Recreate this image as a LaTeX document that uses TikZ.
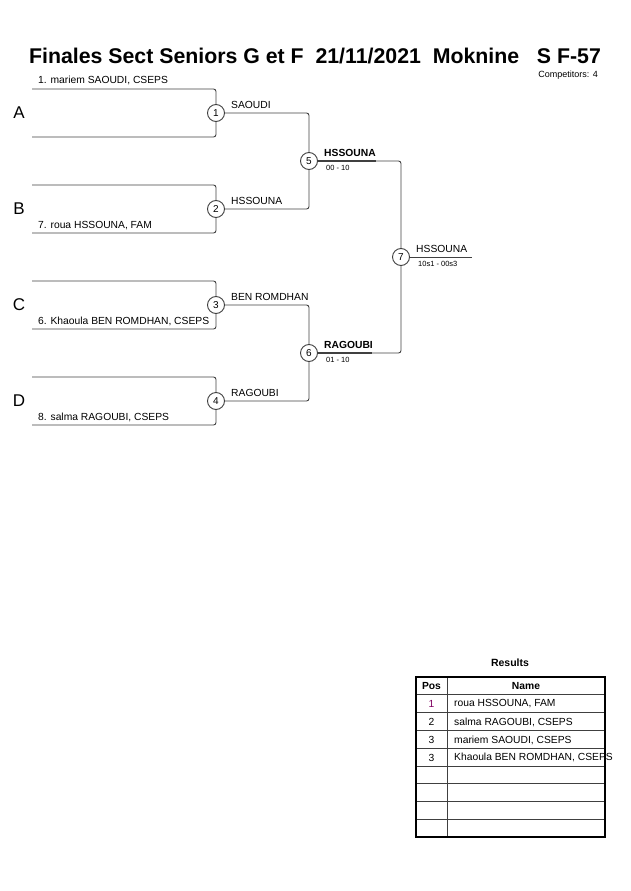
\documentclass[tikz,border=0pt]{standalone}
\usepackage{fontspec}
\setmainfont{Liberation Sans}
\usetikzlibrary{positioning}
\definecolor{linegray}{HTML}{404040}
\definecolor{posviolet}{HTML}{800060}
\tikzset{
  bracket/.style={draw=linegray, line width=0.9pt, rounded corners=2.5pt},
  matchnum/.style={circle, draw=linegray, line width=0.9pt, fill=white, minimum size=17pt, inner sep=0pt, font=\fontsize{10}{11}\selectfont},
  player/.style={anchor=base west, inner sep=0pt, font=\fontsize{10.3}{12}\selectfont},
  winner/.style={anchor=base west, inner sep=0pt, font=\fontsize{10.3}{12}\selectfont\bfseries},
  score/.style={anchor=base west, inner sep=0pt, font=\fontsize{7.5}{9}\selectfont},
  pool/.style={inner sep=0pt, font=\fontsize{17}{19}\selectfont},
  cell/.style={inner sep=0pt, font=\fontsize{10.3}{12}\selectfont},
}
\begin{document}
\begin{tikzpicture}[x=1pt,y=-1pt]
          \useasboundingbox (0,0) rectangle (630,891);
          % titre
          \node [inner sep=0pt, font=\fontsize{21.3}{23}\selectfont\bfseries] (title) at (315,56)
            {Finales Sect Seniors G et F\ \ 21/11/2021\ \ Moknine\ \ \ S F-57};
          \node [anchor=east, inner sep=0pt, font=\fontsize{9}{10}\selectfont] (count) at (598,75) {Competitors: 4};

          % numeros des matchs
          \node [matchnum] (m1) at (216,113) {1};
          \node [matchnum] (m2) at (216,209) {2};
          \node [matchnum] (m3) at (216,305) {3};
          \node [matchnum] (m4) at (216,401) {4};
          \node [matchnum] (m5) at (309,161) {5};
          \node [matchnum] (m6) at (309,353) {6};
          \node [matchnum] (m7) at (401,257) {7};

          \node [pool] (pa) at (19,113) {A};
          \node [pool] (pb) at (19,209) {B};
          \node [pool] (pc) at (19,305) {C};
          \node [pool] (pd) at (19,401) {D};

          \coordinate (a1) at (32,89);  \coordinate (a2) at (32,137);
          \coordinate (b1) at (32,185); \coordinate (b2) at (32,233);
          \coordinate (c1) at (32,281); \coordinate (c2) at (32,329);
          \coordinate (d1) at (32,377); \coordinate (d2) at (32,425);
          \coordinate (fin) at (472,257);
          \coordinate (u5) at (376,161);
          \coordinate (u6) at (372,353);

          % premier tour
          \draw [bracket] (a1) -| (m1);  \draw [bracket] (a2) -| (m1);
          \draw [bracket] (b1) -| (m2);  \draw [bracket] (b2) -| (m2);
          \draw [bracket] (c1) -| (m3);  \draw [bracket] (c2) -| (m3);
          \draw [bracket] (d1) -| (m4);  \draw [bracket] (d2) -| (m4);
          % demi-finales et finale
          \draw [bracket] (m1) -| (m5);  \draw [bracket] (m2) -| (m5);
          \draw [bracket] (m3) -| (m6);  \draw [bracket] (m4) -| (m6);
          \draw [bracket] (m5) -| (m7);  \draw [bracket] (m6) -| (m7);
          \draw [bracket] (m7) -- (fin);
          \draw [draw=linegray, line width=1.4pt] (m5) -- (u5);
          \draw [draw=linegray, line width=1.4pt] (m6) -- (u6);

          \node [player] (n1) at (38,84) {1. mariem SAOUDI, CSEPS};
          \node [player] (n7) at (38,228) {7. roua HSSOUNA, FAM};
          \node [player] (n6) at (38,324) {6. Khaoula BEN ROMDHAN, CSEPS};
          \node [player] (n8) at (38,420) {8. salma RAGOUBI, CSEPS};

          \node [player] (w1) at (231,108) {SAOUDI};
          \node [player] (w2) at (231,204) {HSSOUNA};
          \node [player] (w3) at (231,300) {BEN ROMDHAN};
          \node [player] (w4) at (231,396) {RAGOUBI};
          \node [winner] (w5) at (324,156) {HSSOUNA};
          \node [score] (s5) at (326,170) {00 - 10};
          \node [winner] (w6) at (324,348) {RAGOUBI};
          \node [score] (s6) at (326,362) {01 - 10};
          \node [player] (w7) at (416,252) {HSSOUNA};
          \node [score] (s7) at (418,266) {10s1 - 00s3};

          % tableau des resultats
          \node [inner sep=0pt, font=\fontsize{10.5}{12}\selectfont\bfseries] (res) at (510,663) {Results};
          \foreach \i in {1,...,8}
            \draw [draw=linegray, line width=0.8pt] (416,677+\i*17.8) -- (605,677+\i*17.8);
          \draw [draw=linegray, line width=0.8pt] (447,677) -- (447,837);
          \draw [draw=black, line width=1.6pt] (416,677) rectangle (605,837);
          \node [cell, font=\fontsize{10.3}{12}\selectfont\bfseries] (hpos) at (431.5,686) {Pos};
          \node [cell, font=\fontsize{10.3}{12}\selectfont\bfseries] (hname) at (526,686) {Name};
          \node [cell, text=posviolet] (p1) at (431.5,704) {1};
          \node [cell] (p2) at (431.5,722) {2};
          \node [cell] (p3) at (431.5,740) {3};
          \node [cell] (p4) at (431.5,757.5) {3};
          \node [cell, anchor=west] (r1) at (454,704) {roua HSSOUNA, FAM};
          \node [cell, anchor=west] (r2) at (454,722) {salma RAGOUBI, CSEPS};
          \node [cell, anchor=west] (r3) at (454,740) {mariem SAOUDI, CSEPS};
          \node [cell, anchor=west] (r4) at (454,757.5) {Khaoula BEN ROMDHAN, CSEPS};
\end{tikzpicture}
\end{document}
